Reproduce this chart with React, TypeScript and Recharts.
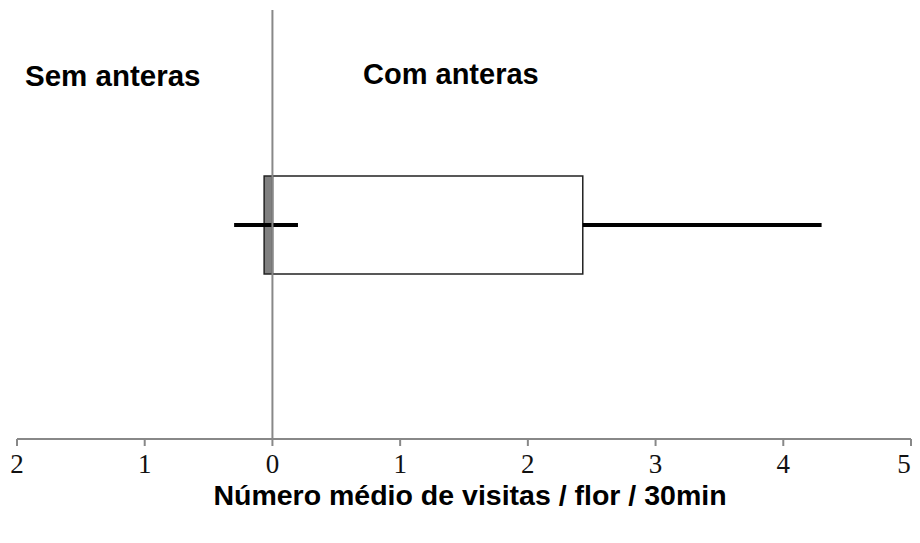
import * as React from 'react';
import {ComposedChart, Bar, XAxis, YAxis, ReferenceLine, Label} from 'recharts';

// one row: the mean visits per flower, mirrored around zero
const categories = ['visitas'];
const semBox = [-0.065, 0];
const comBox = [0, 2.43];
const semWhisker = [-0.3, 0.2];
const comWhisker = [2.43, 4.3];
const xTicks = [-2, -1, 0, 1, 2, 3, 4, 5];

const data = categories.map((name) => ({
    name,
    semBox,
    comBox,
    semWhisker,
    comWhisker
}));

const boldFont = '"Liberation Sans", Arial, sans-serif';

// the last label sits a bit to the left so it stays inside the page
const AxisTick = (props: any) => {
    const {x, y, payload} = props;
    const last = payload.value === xTicks[xTicks.length - 1];
    return (
        <text
            x={x}
            y={y}
            dy="0.71em"
            dx={last ? -4 : 0}
            textAnchor="middle"
            fill="#111"
            fontSize={27}
            fontFamily='"Liberation Serif", "Times New Roman", serif'
        >
            {Math.abs(payload.value)}
        </text>
    );
};

export default function App() {
    return (
        <div style={{position: 'relative', width: 904, height: 530}}>
            <ComposedChart
                width={904}
                height={530}
                data={data}
                layout="vertical"
                margin={{top: 2, right: 1, left: 9, bottom: 29}}
            >
                <XAxis
                    type="number"
                    domain={[-2, 5]}
                    ticks={xTicks}
                    allowDataOverflow
                    axisLine={{stroke: '#888', strokeWidth: 2}}
                    tickLine={{stroke: '#888', strokeWidth: 2}}
                    tickSize={7}
                    tickMargin={8}
                    tick={<AxisTick />}
                    height={70}
                >
                    <Label
                        value="Número médio de visitas / flor / 30min"
                        position="insideBottom"
                        offset={4}
                        dx={6}
                        style={{fontFamily: boldFont, fontWeight: 'bold', fontSize: 28.5, fill: '#000'}}
                    />
                </XAxis>
                <YAxis yAxisId="sem" type="category" dataKey="name" hide />
                <YAxis yAxisId="com" type="category" dataKey="name" hide />
                <YAxis yAxisId="semW" type="category" dataKey="name" hide />
                <YAxis yAxisId="comW" type="category" dataKey="name" hide />
                <ReferenceLine x={0} yAxisId="com" stroke="#888" strokeWidth={2} />
                <Bar yAxisId="com" dataKey="comBox" barSize={98} fill="#fff" stroke="#222" strokeWidth={1.5} isAnimationActive={false} />
                <Bar yAxisId="sem" dataKey="semBox" barSize={98} fill="#808080" stroke="#222" strokeWidth={1.5} isAnimationActive={false} />
                <Bar yAxisId="semW" dataKey="semWhisker" barSize={4} fill="#000" isAnimationActive={false} />
                <Bar yAxisId="comW" dataKey="comWhisker" barSize={4} fill="#000" isAnimationActive={false} />
            </ComposedChart>
            <div style={{position: 'absolute', left: 17, top: 53, fontFamily: boldFont, fontWeight: 'bold', fontSize: 29.5, lineHeight: '30px'}}>
                Sem anteras
            </div>
            <div style={{position: 'absolute', left: 355, top: 51, fontFamily: boldFont, fontWeight: 'bold', fontSize: 29, lineHeight: '30px'}}>
                Com anteras
            </div>
        </div>
    );
}
